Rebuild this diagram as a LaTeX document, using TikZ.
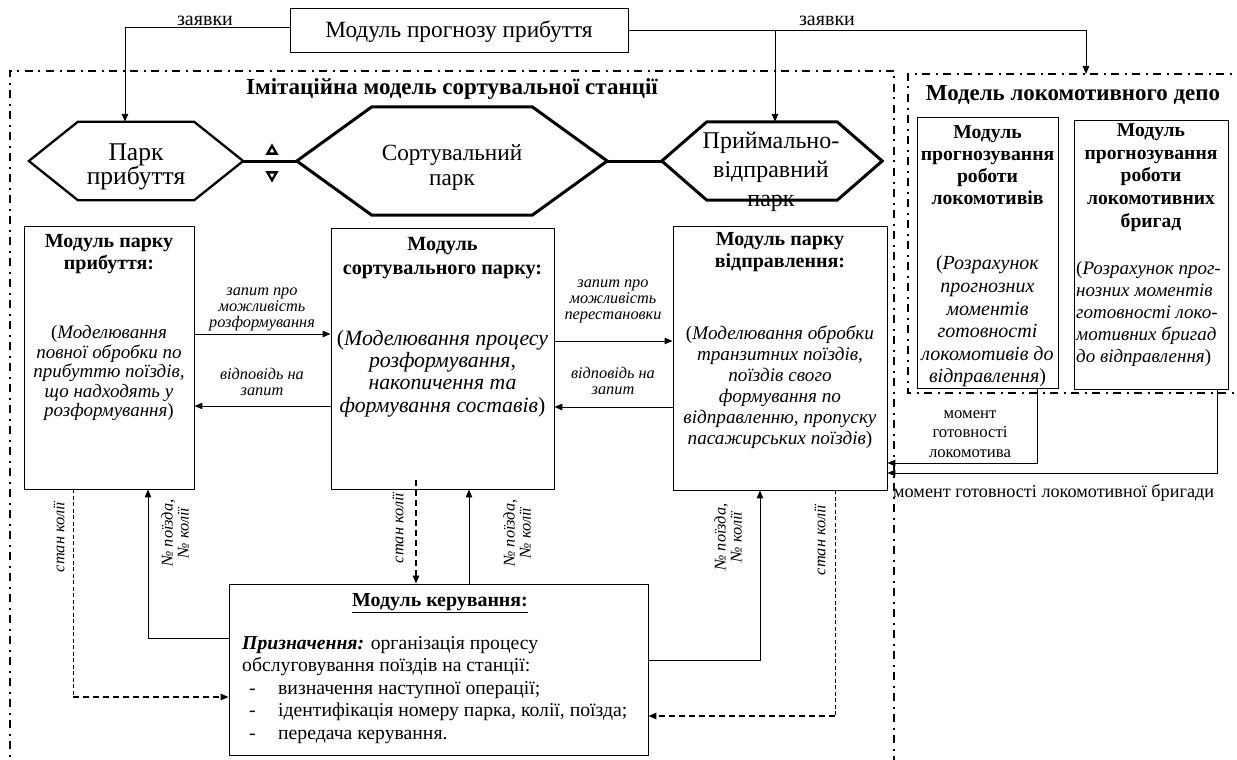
\documentclass[tikz,border=0pt]{standalone}
\usepackage{fontspec}
\setmainfont{Liberation Serif}
\usetikzlibrary{arrows.meta,shapes.geometric}
\begin{document}
\begin{tikzpicture}[x=1pt,y=-1pt,
  modbox/.style 2 args={draw, line width=0.9pt, inner sep=0pt, minimum width=#1pt, minimum height=#2pt},
  hexbox/.style 2 args={inner sep=0pt, minimum width=#1pt, minimum height=#2pt},
  hexline/.style={line width=#1, line join=miter},
  frame/.style={line width=2pt, dash pattern=on 8pt off 5.5pt on 2pt off 5.5pt},
  conn/.style={line width=1pt},
  arr/.style={line width=1pt, -{Triangle[length=8pt,width=6.5pt]}},
  dashline/.style={line width=0.8pt, dash pattern=on 4pt off 2.5pt},
  dasharr/.style={line width=1.4pt, dash pattern=on 6pt off 4pt, -{Triangle[length=8pt,width=6.5pt]}},
  txt/.style={inner sep=0pt, align=center},
  lblit/.style={inner sep=0pt, align=center, font=\itshape\fontsize{16.3}{16}\selectfont},
  tri/.style={draw, fill=white, line width=2.3pt, regular polygon, regular polygon sides=3, inner sep=0pt, minimum size=10.5pt},
]
\useasboundingbox (0,0) rectangle (1237,760);

% frames
\draw[frame] (10,770) -- (10,71) -- (894,71) -- (894,770);
\draw[frame] (1245,74) -- (908,74) -- (908,393) -- (1245,393);
\node[txt, font=\bfseries\fontsize{23}{26}\selectfont] (title1) at (452,89) {Імітаційна модель сортувальної станції};
\node[txt, font=\bfseries\fontsize{22.9}{26}\selectfont] (title2) at (1073,95) {Модель локомотивного депо};

% top module
\node[modbox={338}{44}] (top) at (459,30) {};
\node[txt, font=\fontsize{23.3}{27}\selectfont] (topt) at (459,32) {Модуль прогнозу прибуття};

% hexagons
\node[hexbox={214}{78}] (h1) at (136,161) {};
\draw[hexline=2.3pt] (h1.west) -- ([xshift=49pt]h1.north west) -- ([xshift=-49pt]h1.north east) -- (h1.east) -- ([xshift=-49pt]h1.south east) -- ([xshift=49pt]h1.south west) -- cycle;
\node[txt, font=\fontsize{25.5}{22}\selectfont] (h1t) at (136,167) {Парк\\прибуття};

\node[hexbox={310}{108}] (h2) at (452,161) {};
\draw[hexline=3pt] (h2.west) -- ([xshift=75pt]h2.north west) -- ([xshift=-75pt]h2.north east) -- (h2.east) -- ([xshift=-75pt]h2.south east) -- ([xshift=75pt]h2.south west) -- cycle;
\node[txt, font=\fontsize{23.2}{25}\selectfont] (h2t) at (452,167.5) {Сортувальний\\парк};

\node[hexbox={220}{78}] (h3) at (772,161) {};
\draw[hexline=3pt] (h3.west) -- ([xshift=45pt]h3.north west) -- ([xshift=-45pt]h3.north east) -- (h3.east) -- ([xshift=-45pt]h3.south east) -- ([xshift=45pt]h3.south west) -- cycle;
\node[txt, font=\fontsize{24}{29}\selectfont] (h3t) at (771,172) {Приймально-\\відправний\\парк};

\draw[line width=3pt] (h1.east) -- (h2.west);
\draw[line width=3pt] (h2.east) -- (h3.west);
\node[tri] (tup) at (272,151) {};
\node[tri, shape border rotate=180] (tdn) at (272,175) {};

% requests
\draw[arr] ([yshift=2pt]top.west) -| ([xshift=-11pt]h1.north);
\coordinate (zr) at (1086,31);
\coordinate (depTop) at (1086,74);
\draw[arr] (top.east |- zr) -- (zr) -- (depTop);
\draw[arr] ([xshift=3pt]h3.north |- zr) -- ([xshift=3pt]h3.north);
\node[txt, font=\fontsize{20}{22}\selectfont] (z1) at (205,21) {заявки};
\node[txt, font=\fontsize{20}{22}\selectfont] (z2) at (827,21) {заявки};

% module boxes
\node[modbox={170}{263}] (b1) at (109,357.5) {};
\node[txt, font=\bfseries\fontsize{20}{22}\selectfont] (b1h) at (109,254) {Модуль парку\\прибуття:};
\node[txt, font=\fontsize{19}{19.5}\selectfont] (b1i) at (109,373) {(\textit{Моделювання}\\\textit{повної обробки по}\\\textit{прибуттю поїздів,}\\\textit{що надходять у}\\\textit{розформування})};

\node[modbox={223}{261}] (b2) at (442.5,358.5) {};
\node[txt, font=\bfseries\fontsize{20.2}{24}\selectfont] (b2h) at (442.5,258) {Модуль\\сортувального парку:};
\node[txt, font=\fontsize{21.8}{22.3}\selectfont] (b2i) at (442.5,373.5) {(\textit{Моделювання процесу}\\\textit{розформування,}\\\textit{накопичення та}\\\textit{формування составів})};

\node[modbox={214}{264}] (b3) at (780,358) {};
\node[txt, font=\bfseries\fontsize{20}{22}\selectfont] (b3h) at (780,252) {Модуль парку\\відправлення:};
\node[txt, font=\fontsize{19.2}{21}\selectfont] (b3i) at (780,387.5) {(\textit{Моделювання обробки}\\\textit{транзитних поїздів,}\\\textit{поїздів свого}\\\textit{формування по}\\\textit{відправленню, пропуску}\\\textit{пасажирських поїздів})};

% depot boxes
\node[modbox={141}{271}] (dA) at (987.5,252.5) {};
\node[txt, font=\bfseries\fontsize{19.7}{22}\selectfont] (dAh) at (987.5,165) {Модуль\\прогнозування\\роботи\\локомотивів};
\node[txt, font=\fontsize{20}{22.6}\selectfont] (dAi) at (987.5,321.5) {(\textit{Розрахунок}\\\textit{прогнозних}\\\textit{моментів}\\\textit{готовності}\\\textit{локомотивів до}\\\textit{відправлення})};

\node[modbox={154}{269}] (dB) at (1151,254.5) {};
\node[txt, font=\bfseries\fontsize{19.6}{22.7}\selectfont] (dBh) at (1151,177.5) {Модуль\\прогнозування\\роботи\\локомотивних\\бригад};
\node[txt, align=left, anchor=west, font=\fontsize{19}{22}\selectfont] (dBi) at (1076,314) {(\textit{Розрахунок прог-}\\\textit{нозних моментів}\\\textit{готовності локо-}\\\textit{мотивних бригад}\\\textit{до відправлення})};

% control module
\node[modbox={419}{171}] (ctl) at (438.5,669.5) {};
\node[txt, font=\bfseries\fontsize{19.9}{22}\selectfont] (ctlh) at (440,603) {\underline{Модуль керування:}};
\node[inner sep=0pt, align=left, anchor=north west, font=\fontsize{19.7}{22.5}\selectfont] (ctlb) at (242,636) {\textbf{\textit{Призначення:}} організація процесу\\обслуговування поїздів на станції:\\\hspace*{7pt}\makebox[29pt][l]{-}визначення наступної операції;\\\hspace*{7pt}\makebox[29pt][l]{-}ідентифікація номеру парка, колії, поїзда;\\\hspace*{7pt}\makebox[29pt][l]{-}передача керування.};

% horizontal arrows between modules
\coordinate (lvA) at (0,334);
\coordinate (lvB) at (0,406);
\coordinate (lvC) at (0,341);
\coordinate (lvD) at (0,407);
\draw[arr] (b1.east |- lvA) -- (b2.west |- lvA);
\draw[arr] (b2.west |- lvB) -- (b1.east |- lvB);
\draw[arr] (b2.east |- lvC) -- (b3.west |- lvC);
\draw[arr] (b3.west |- lvD) -- (b2.east |- lvD);
\node[lblit] (l1) at (262,309) {запит про\\можливість\\розформування};
\node[lblit] (l2) at (262,382) {відповідь на\\запит};
\node[lblit] (l3) at (613,301) {запит про\\можливість\\перестановки};
\node[lblit] (l4) at (613,381) {відповідь на\\запит};

% vertical connectors
\coordinate (pL1) at (148,638);
\draw[arr] (ctl.west |- pL1) -| (b1.south -| pL1);
\coordinate (pL2) at (73,697);
\draw[dashline] (b1.south -| pL2) -- (pL2);
\draw[dasharr] (pL2) -- (ctl.west |- pL2);

\coordinate (pM1) at (416,480);
\draw[dasharr] (pM1) -- (ctl.north -| pM1);
\coordinate (pM2) at (469,500);
\draw[arr] (ctl.north -| pM2) -- (b2.south -| pM2);

\coordinate (pR1) at (760,660);
\draw[arr] (ctl.east |- pR1) -| (b3.south -| pR1);
\coordinate (pR2) at (835,716);
\draw[dashline] (b3.south -| pR2) -- (pR2);
\draw[dasharr] (pR2) -- (ctl.east |- pR2);

\node[lblit, rotate=90] (r1) at (59,537) {стан колії};
\node[lblit, rotate=90] (r2) at (175,533) {№ поїзда,\\№ колії};
\node[lblit, rotate=90] (r3) at (398,528) {стан колії};
\node[lblit, rotate=90] (r4) at (517,533) {№ поїзда,\\№ колії};
\node[lblit, rotate=90] (r5) at (728,537) {№ поїзда,\\№ колії};
\node[lblit, rotate=90] (r6) at (820,540) {стан колії};

% depot connectors
\coordinate (pD1) at (1037,463);
\draw[arr] (dA.south -| pD1) |- (b3.east |- pD1);
\coordinate (pD2) at (1217,473);
\draw[arr] (dB.south -| pD2) |- (b3.east |- pD2);
\node[txt, font=\fontsize{16.7}{19.5}\selectfont] (m1) at (970,434) {момент\\готовності\\локомотива};
\node[inner sep=0pt, anchor=west, font=\fontsize{18.2}{21}\selectfont] (m2) at (893,493) {момент готовності локомотивної бригади};
\end{tikzpicture}
\end{document}
